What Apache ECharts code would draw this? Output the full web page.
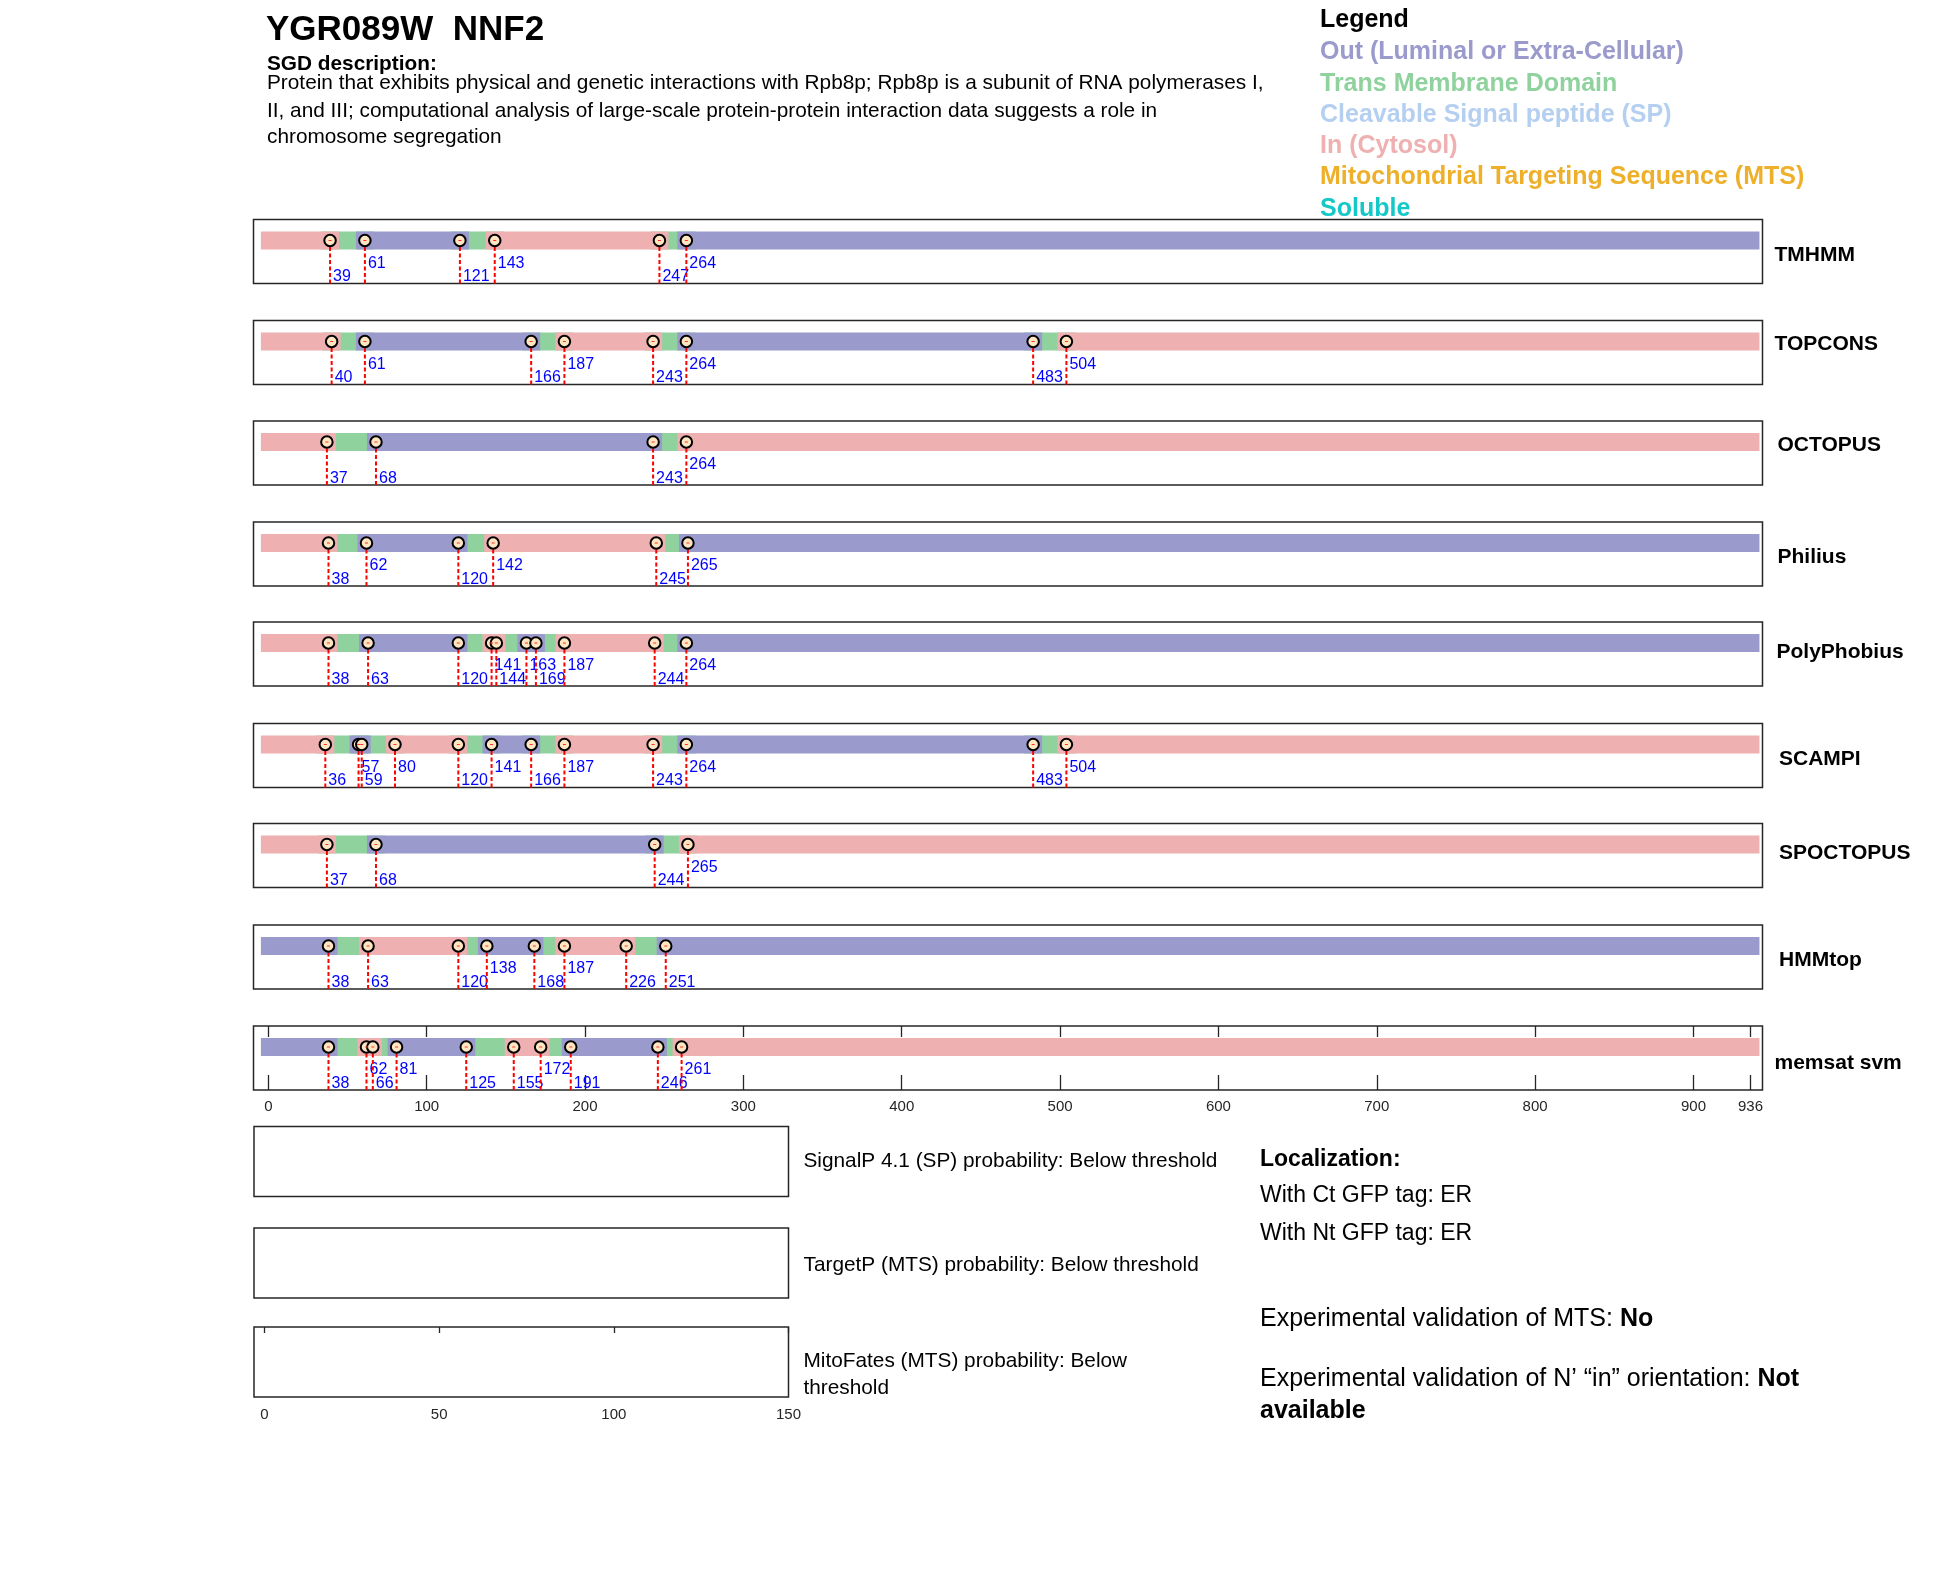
<!DOCTYPE html>
<html>
<head>
<meta charset="utf-8">
<script src="https://cdn.jsdelivr.net/npm/echarts@6/dist/echarts.min.js"></script>
<style>
html,body{margin:0;padding:0;background:#fff;}
#chart{width:1950px;height:1573px;}
</style>
</head>
<body>
<div id="chart"></div>
<script>
// ---------------- DATA ----------------
const proteinLength = 936;
const trackNames = ['TMHMM','TOPCONS','OCTOPUS','Philius','PolyPhobius','SCAMPI','SPOCTOPUS','HMMtop','memsat svm'];

// boundaries (residue numbers), region types between them, label row (1 = lower, 0 = upper)
const tmhmmBounds = [39,61,121,143,247,264];
const tmhmmTypes  = ['in','tm','out','tm','in','tm','out'];
const tmhmmRows   = [1,0,1,0,1,0];

const topconsBounds = [40,61,166,187,243,264,483,504];
const topconsTypes  = ['in','tm','out','tm','in','tm','out','tm','in'];
const topconsRows   = [1,0,1,0,1,0,1,0];

const octopusBounds = [37,68,243,264];
const octopusTypes  = ['in','tm','out','tm','in'];
const octopusRows   = [1,1,1,0];

const philiusBounds = [38,62,120,142,245,265];
const philiusTypes  = ['in','tm','out','tm','in','tm','out'];
const philiusRows   = [1,0,1,0,1,0];

const polyphobiusBounds = [38,63,120,141,144,163,169,187,244,264];
const polyphobiusTypes  = ['in','tm','out','tm','in','tm','out','tm','in','tm','out'];
const polyphobiusRows   = [1,1,1,0,1,0,1,0,1,0];

const scampiBounds = [36,57,59,80,120,141,166,187,243,264,483,504];
const scampiTypes  = ['in','tm','out','tm','in','tm','out','tm','in','tm','out','tm','in'];
const scampiRows   = [1,0,1,0,1,0,1,0,1,0,1,0];

const spoctopusBounds = [37,68,244,265];
const spoctopusTypes  = ['in','tm','out','tm','in'];
const spoctopusRows   = [1,1,1,0];

const hmmtopBounds = [38,63,120,138,168,187,226,251];
const hmmtopTypes  = ['out','tm','in','tm','out','tm','in','tm','out'];
const hmmtopRows   = [1,1,1,0,1,0,1,1];

const memsatBounds = [38,62,66,81,125,155,172,191,246,261];
const memsatTypes  = ['out','tm','in','tm','out','tm','in','tm','out','tm','in'];
const memsatRows   = [1,0,1,0,1,1,0,1,1,0];

const trackBounds = [tmhmmBounds, topconsBounds, octopusBounds, philiusBounds, polyphobiusBounds, scampiBounds, spoctopusBounds, hmmtopBounds, memsatBounds];
const trackTypes  = [tmhmmTypes, topconsTypes, octopusTypes, philiusTypes, polyphobiusTypes, scampiTypes, spoctopusTypes, hmmtopTypes, memsatTypes];
const trackRows   = [tmhmmRows, topconsRows, octopusRows, philiusRows, polyphobiusRows, scampiRows, spoctopusRows, hmmtopRows, memsatRows];

const residueTicks = [0,100,200,300,400,500,600,700,800,900,936];
const probTicks = [0,50,100,150];

const legendItems = ['Out (Luminal or Extra-Cellular)','Trans Membrane Domain','Cleavable Signal peptide (SP)','In (Cytosol)','Mitochondrial Targeting Sequence (MTS)','Soluble'];
const legendKeys  = ['out','tm','sp','in','mts','sol'];

const descLines = [
  'Protein that exhibits physical and genetic interactions with Rpb8p; Rpb8p is a subunit of RNA polymerases I,',
  'II, and III; computational analysis of large-scale protein-protein interaction data suggests a role in',
  'chromosome segregation'
];
const probTexts = ['SignalP 4.1 (SP) probability: Below threshold','TargetP (MTS) probability: Below threshold','MitoFates (MTS) probability: Below','threshold'];

// ---------------- STYLE ----------------
const COLORS = {out:'#9A9BCC', tm:'#8FD29E', sp:'#B5CFF1', in:'#EEB0B0', mts:'#EEB02A', sol:'#14C8C8'};
const FONT = '"Liberation Sans", Arial, Helvetica, sans-serif';
const GRID_LEFT = 253.5, GRID_W = 1509, TRACK_H = 64;
const trackTops = [219.5, 320.5, 421, 522, 622, 723.5, 823.5, 925, 1026];
const BAR_Y = 21, BAR_H = 18, CAP = 9, UP_Y = 44, LOW_Y = 57.5;
const X_MIN = -9.35, X_MAX = 943.6;

const chart = echarts.init(document.getElementById('chart'), null, {renderer:'canvas'});

const grids = [], xAxes = [], yAxes = [], series = [];

trackNames.forEach((name, i) => {
  grids.push({left: GRID_LEFT, top: trackTops[i], width: GRID_W, height: TRACK_H,
    show: true, borderColor: '#262626', borderWidth: 1.5, backgroundColor: 'transparent'});
  const isLast = i === trackNames.length - 1;
  xAxes.push({gridIndex: i, type: 'value', min: X_MIN, max: X_MAX, show: isLast, position: 'bottom',
    axisLine: {show: false, onZero: false}, splitLine: {show: false},
    axisTick: {show: isLast, inside: true, length: 15, customValues: residueTicks, lineStyle: {color: '#262626', width: 1.3}},
    axisLabel: {show: isLast, customValues: residueTicks, fontSize: 15, color: '#262626', fontFamily: FONT, margin: 9}});
  yAxes.push({gridIndex: i, type: 'value', min: 0, max: TRACK_H, inverse: true, show: false});
});
// top ticks of the memsat panel
xAxes.push({gridIndex: 8, type: 'value', min: X_MIN, max: X_MAX, position: 'top',
  axisLine: {show: false, onZero: false}, splitLine: {show: false},
  axisTick: {show: true, inside: true, length: 11, customValues: residueTicks, lineStyle: {color: '#262626', width: 1.3}},
  axisLabel: {show: false}});

// bottom probability panels
const probTops = [1126.5, 1228, 1327];
probTops.forEach((t, k) => {
  const gi = 9 + k;
  grids.push({left: 254, top: t, width: 534.5, height: 70, show: true, borderColor: '#262626', borderWidth: 1.5, backgroundColor: 'transparent'});
  const last = k === 2;
  xAxes.push({gridIndex: gi, type: 'value', min: -3, max: 150, show: last, position: 'bottom',
    axisLine: {show: false, onZero: false}, splitLine: {show: false}, axisTick: {show: false},
    axisLabel: {show: last, customValues: probTicks, fontSize: 15, color: '#262626', fontFamily: FONT, margin: 10.5}});
  yAxes.push({gridIndex: gi, type: 'value', min: 0, max: 1, show: false});
});
xAxes.push({gridIndex: 11, type: 'value', min: -3, max: 150, position: 'top',
  axisLine: {show: false, onZero: false}, splitLine: {show: false},
  axisTick: {show: true, inside: true, length: 6, customValues: probTicks, lineStyle: {color: '#262626', width: 1.3}},
  axisLabel: {show: false}});

function renderSegment(params, api) {
  const s = api.value(0), e = api.value(1), t = legendKeys[api.value(2)];
  const p0 = api.coord([s, BAR_Y]), p1 = api.coord([e, BAR_Y]);
  const h = api.size([0, BAR_H])[1];
  return {type: 'rect', z2: t === 'tm' ? 1 : 2,
    shape: {x: p0[0] - CAP, y: p0[1] - h / 2, width: p1[0] - p0[0] + 2 * CAP, height: h},
    style: {fill: COLORS[t]}};
}
function renderMark(params, api) {
  const v = api.value(0), row = api.value(1);
  const a = api.coord([v, BAR_Y]), b = api.coord([v, TRACK_H]);
  const ly = api.coord([v, row ? LOW_Y : UP_Y])[1];
  return {type: 'group', children: [
    {type: 'text', z2: 0, style: {x: a[0] + 3, y: ly, text: String(v), fill: '#0000FF',
      font: '16px ' + FONT, textAlign: 'left', textVerticalAlign: 'middle', align: 'left', verticalAlign: 'middle'}},
    {type: 'line', z2: 1, shape: {x1: a[0], y1: a[1], x2: b[0], y2: b[1]},
      style: {stroke: '#FF0000', lineWidth: 2, lineDash: [4, 2.5]}}
  ]};
}
function renderDot(params, api) {
  const a = api.coord([api.value(0), BAR_Y]);
  return {type: 'line', shape: {x1: a[0] - 1.5, y1: a[1], x2: a[0] + 1.5, y2: a[1]}, style: {stroke: '#FF3030', lineWidth: 1}};
}

trackNames.forEach((name, i) => {
  const b = trackBounds[i], types = trackTypes[i], rows = trackRows[i];
  const edges = [1].concat(b, [proteinLength]);
  const segData = types.map((t, k) => [edges[k], edges[k + 1], legendKeys.indexOf(t)]);
  series.push({type: 'custom', name: name + ' regions', coordinateSystem: 'cartesian2d', xAxisIndex: i, yAxisIndex: i,
    renderItem: renderSegment, data: segData, z: 1, silent: true, clip: false, encode: {x: [0, 1]}});
  series.push({type: 'custom', name: name + ' cuts', coordinateSystem: 'cartesian2d', xAxisIndex: i, yAxisIndex: i,
    renderItem: renderMark, data: b.map((v, k) => [v, rows[k]]), z: 2, silent: true, clip: false, encode: {x: 0}});
  series.push({type: 'scatter', name: name + ' boundaries', xAxisIndex: i, yAxisIndex: i,
    data: b.map(v => [v, BAR_Y]), symbol: 'circle', symbolSize: 11.5, z: 3, silent: true,
    itemStyle: {color: '#FFE6C2', borderColor: '#000', borderWidth: 2, opacity: 1}});
  series.push({type: 'custom', name: name + ' dots', coordinateSystem: 'cartesian2d', xAxisIndex: i, yAxisIndex: i,
    renderItem: renderDot, data: b.map(v => [v]), z: 4, silent: true, clip: false, encode: {x: 0}});
});

// ---------------- TEXT ----------------
function txt(x, y, text, size, weight, color) {
  return {type: 'text', x: x, y: y, silent: true,
    style: {text: text, fill: color || '#000', font: (weight || 'normal') + ' ' + size + 'px ' + FONT,
      textAlign: 'left', textVerticalAlign: 'middle', align: 'left', verticalAlign: 'middle'}};
}
const graphics = [];
graphics.push(txt(266, 30, 'YGR089W  NNF2', 35, 'bold'));
graphics.push(txt(267, 64.5, 'SGD description:', 20.8, 'bold'));
const descY = [83, 111, 137.5];
descLines.forEach((l, k) => graphics.push(txt(267, descY[k], l, 20.8, 'normal')));

graphics.push(txt(1320, 20.5, 'Legend', 25, 'bold'));
const legY = [52.5, 84, 115.5, 146.5, 177.5, 209];
legendItems.forEach((l, k) => graphics.push(txt(1320, legY[k], l, 25, 'bold', COLORS[legendKeys[k]])));

const nameX = [1774.5, 1774.5, 1777.5, 1777.5, 1776.5, 1779, 1779, 1779, 1774.5];
const nameY = [255, 344, 445, 557, 652, 759, 853, 960, 1063];
trackNames.forEach((n, i) => graphics.push(txt(nameX[i], nameY[i], n, 21, 'bold')));

const probY = [1161, 1265, 1361, 1388];
probTexts.forEach((t, k) => graphics.push(txt(803.5, probY[k], t, 20.8, 'normal')));

graphics.push(txt(1260, 1160, 'Localization:', 23, 'bold'));
graphics.push(txt(1260, 1196, 'With Ct GFP tag: ER', 23, 'normal'));
graphics.push(txt(1260, 1233.5, 'With Nt GFP tag: ER', 23, 'normal'));
function richTxt(x, y, a, b) {
  return {type: 'text', x: x, y: y, silent: true, style: {
    text: '{n|' + a + '}{b|' + b + '}', textAlign: 'left', textVerticalAlign: 'middle', align: 'left', verticalAlign: 'middle',
    rich: {n: {fontSize: 25, fontFamily: FONT, fontWeight: 'normal', fill: '#000', color: '#000'},
           b: {fontSize: 25, fontFamily: FONT, fontWeight: 'bold', fill: '#000', color: '#000'}}}};
}
graphics.push(richTxt(1260, 1319, 'Experimental validation of MTS: ', 'No'));
graphics.push(richTxt(1260, 1379, 'Experimental validation of N\u2019 \u201Cin\u201D orientation: ', 'Not'));
graphics.push(txt(1260, 1411, 'available', 25, 'bold'));

chart.setOption({
  animation: false,
  backgroundColor: '#ffffff',
  grid: grids,
  xAxis: xAxes,
  yAxis: yAxes,
  series: series,
  graphic: {elements: graphics}
});
</script>
</body>
</html>
